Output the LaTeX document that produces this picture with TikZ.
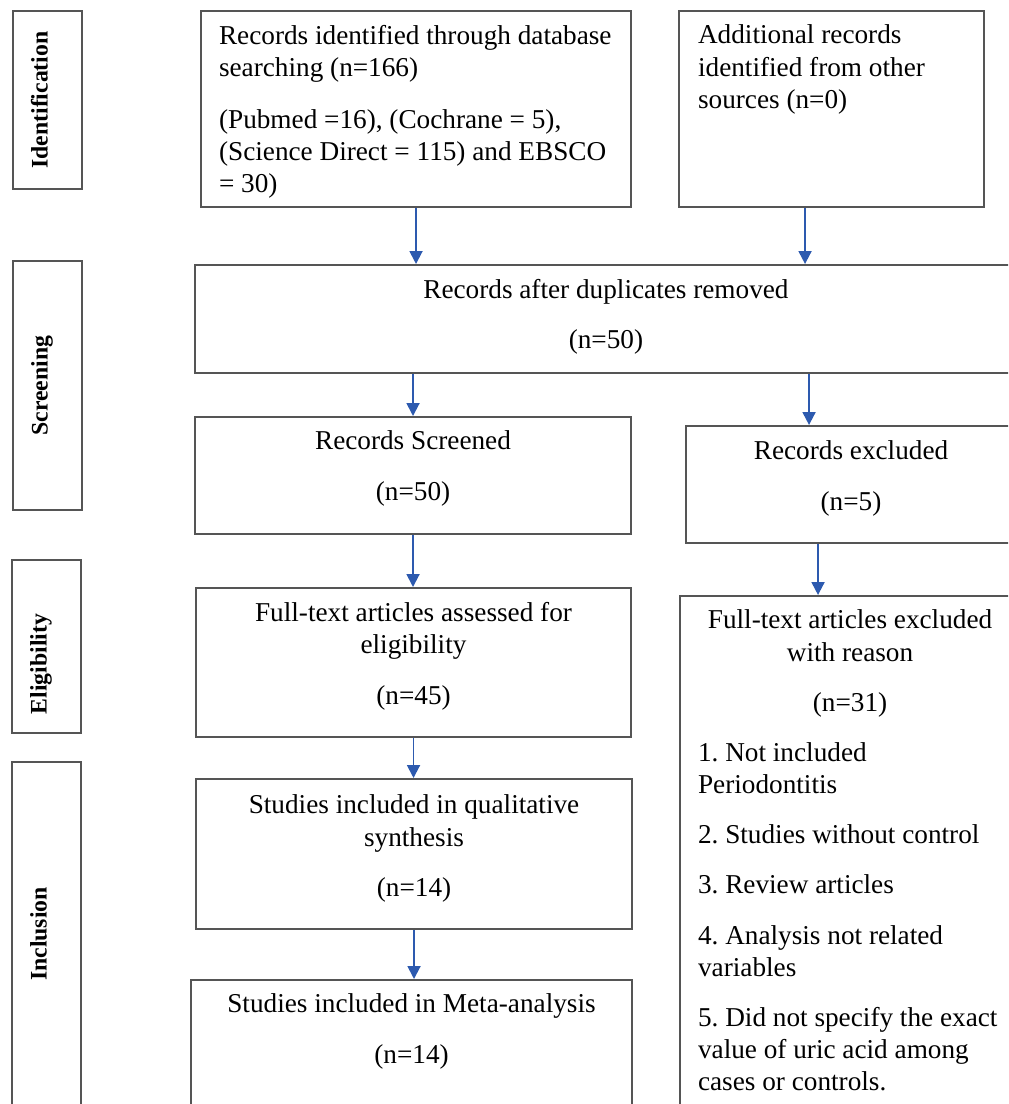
\documentclass[tikz,border=0pt]{standalone}
\usepackage{fontspec}
\setmainfont{Liberation Serif}
\usetikzlibrary{arrows.meta}
\definecolor{boxline}{RGB}{85,85,85}
\definecolor{arrowblue}{RGB}{45,90,175}
\setlength{\parindent}{0pt}
\frenchspacing
\newcommand{\boxtext}[3]{\begin{minipage}[t][#2][t]{#1}#3\end{minipage}}
\tikzset{
  flow/.style={draw=boxline, line width=1.2pt, inner sep=0pt, anchor=north west,
    font=\fontsize{15.5}{18.3}\selectfont},
  side/.style={draw=boxline, line width=1.2pt, inner sep=0pt, anchor=north west,
    minimum width=1.38cm},
  phase/.style={rotate=90, anchor=base, font=\bfseries\fontsize{13.5}{16}\selectfont},
  arr/.style={draw=arrowblue, line width=1.1pt, -{Triangle[length=0.26cm, width=0.26cm]}}
}

\begin{document}
\begin{tikzpicture}[x=0.02cm, y=-0.02cm]
	\useasboundingbox (0,0) rectangle (1008,1104);
	\clip (0,0) rectangle (1008,1104);
	% phase boxes on the left
	\node[side, minimum height=3.56cm] (sIdent) at (12,10) {};
	\node[side, minimum height=4.98cm] (sScreen) at (12,260) {};
	\node[side, minimum height=3.46cm] (sElig) at (11,559) {};
	\node[side, minimum height=7.2cm] (sIncl) at (11,761) {};
	\node[phase] (lIdent) at (sIdent.center) {Identification};
	\node[phase] (lScreen) at (sScreen.center) {Screening};
	\node[phase] (lElig) at ([yshift=-0.35cm]sElig.center) {Eligibility};
	\node[phase] (lIncl) at ([yshift=-3.46cm]sIncl.north) {Inclusion};

	% flow boxes
	\node[flow] (ident) at (200,10) {\boxtext{8.6cm}{3.92cm}{\vspace*{0.28cm}\raggedright\leftskip=0.36cm
		Records identified through database\\ searching (n=166)\\[0.4cm]
		(Pubmed =16), (Cochrane = 5),\\ (Science Direct = 115) and EBSCO\\ = 30)}};
	\node[flow] (addit) at (678,10) {\boxtext{6.1cm}{3.92cm}{\vspace*{0.28cm}\raggedright\leftskip=0.38cm
		Additional records\\ identified from other\\ sources (n=0)}};
	\node[flow] (dup) at (194,264) {\boxtext{16.44cm}{2.16cm}{\vspace*{0.28cm}\centering
		Records after duplicates removed\\[0.36cm] (n=50)}};
	\node[flow] (screened) at (194,416) {\boxtext{8.72cm}{2.34cm}{\vspace*{0.28cm}\centering
		Records Screened\\[0.36cm] (n=50)}};
	\node[flow] (excl) at (685,425) {\boxtext{6.6cm}{2.34cm}{\vspace*{0.3cm}\centering
		Records excluded\\[0.36cm] (n=5)}};
	\node[flow] (fulltext) at (195,587) {\boxtext{8.7cm}{2.98cm}{\vspace*{0.28cm}\centering
		Full-text articles assessed for\\ eligibility\\[0.38cm] (n=45)}};
	\node[flow] (ftexcl) at (679,595) {\boxtext{6.8cm}{10.6cm}{\vspace*{0.28cm}
		{\centering Full-text articles excluded\\ with reason\\[0.36cm] (n=31)\par}
		\vspace{0.36cm}
		\raggedright\leftskip=0.36cm
		1. Not included\\ Periodontitis\\[0.36cm]
		2. Studies without control\\[0.36cm]
		3. Review articles\\[0.36cm]
		4. Analysis not related\\ variables\\[0.36cm]
		5. Did not specify the exact\\ value of uric acid among\\ cases or controls.}};
	\node[flow] (qual) at (195,778) {\boxtext{8.72cm}{3.0cm}{\vspace*{0.32cm}\centering
		Studies included in qualitative\\ synthesis\\[0.36cm] (n=14)}};
	\node[flow] (meta) at (190,979) {\boxtext{8.82cm}{2.8cm}{\vspace*{0.28cm}\centering
		Studies included in Meta-analysis\\[0.36cm] (n=14)}};

	% arrows
	\draw[arr] (ident.south) -- (ident.south |- dup.north);
	\draw[arr] ([xshift=-0.53cm]addit.south) -- ([xshift=-0.53cm]addit.south |- dup.north);
	\draw[arr] (screened.north |- dup.south) -- (screened.north);
	\draw[arr] ([xshift=-0.84cm]excl.north |- dup.south) -- ([xshift=-0.84cm]excl.north);
	\draw[arr] (screened.south) -- (screened.south |- fulltext.north);
	\draw[arr] ([xshift=-0.66cm]excl.south) -- ([xshift=-0.66cm]excl.south |- ftexcl.north);
	\draw[arr] (fulltext.south) -- (fulltext.south |- qual.north);
	\draw[arr] (qual.south) -- (qual.south |- meta.north);
\end{tikzpicture}
\end{document}
